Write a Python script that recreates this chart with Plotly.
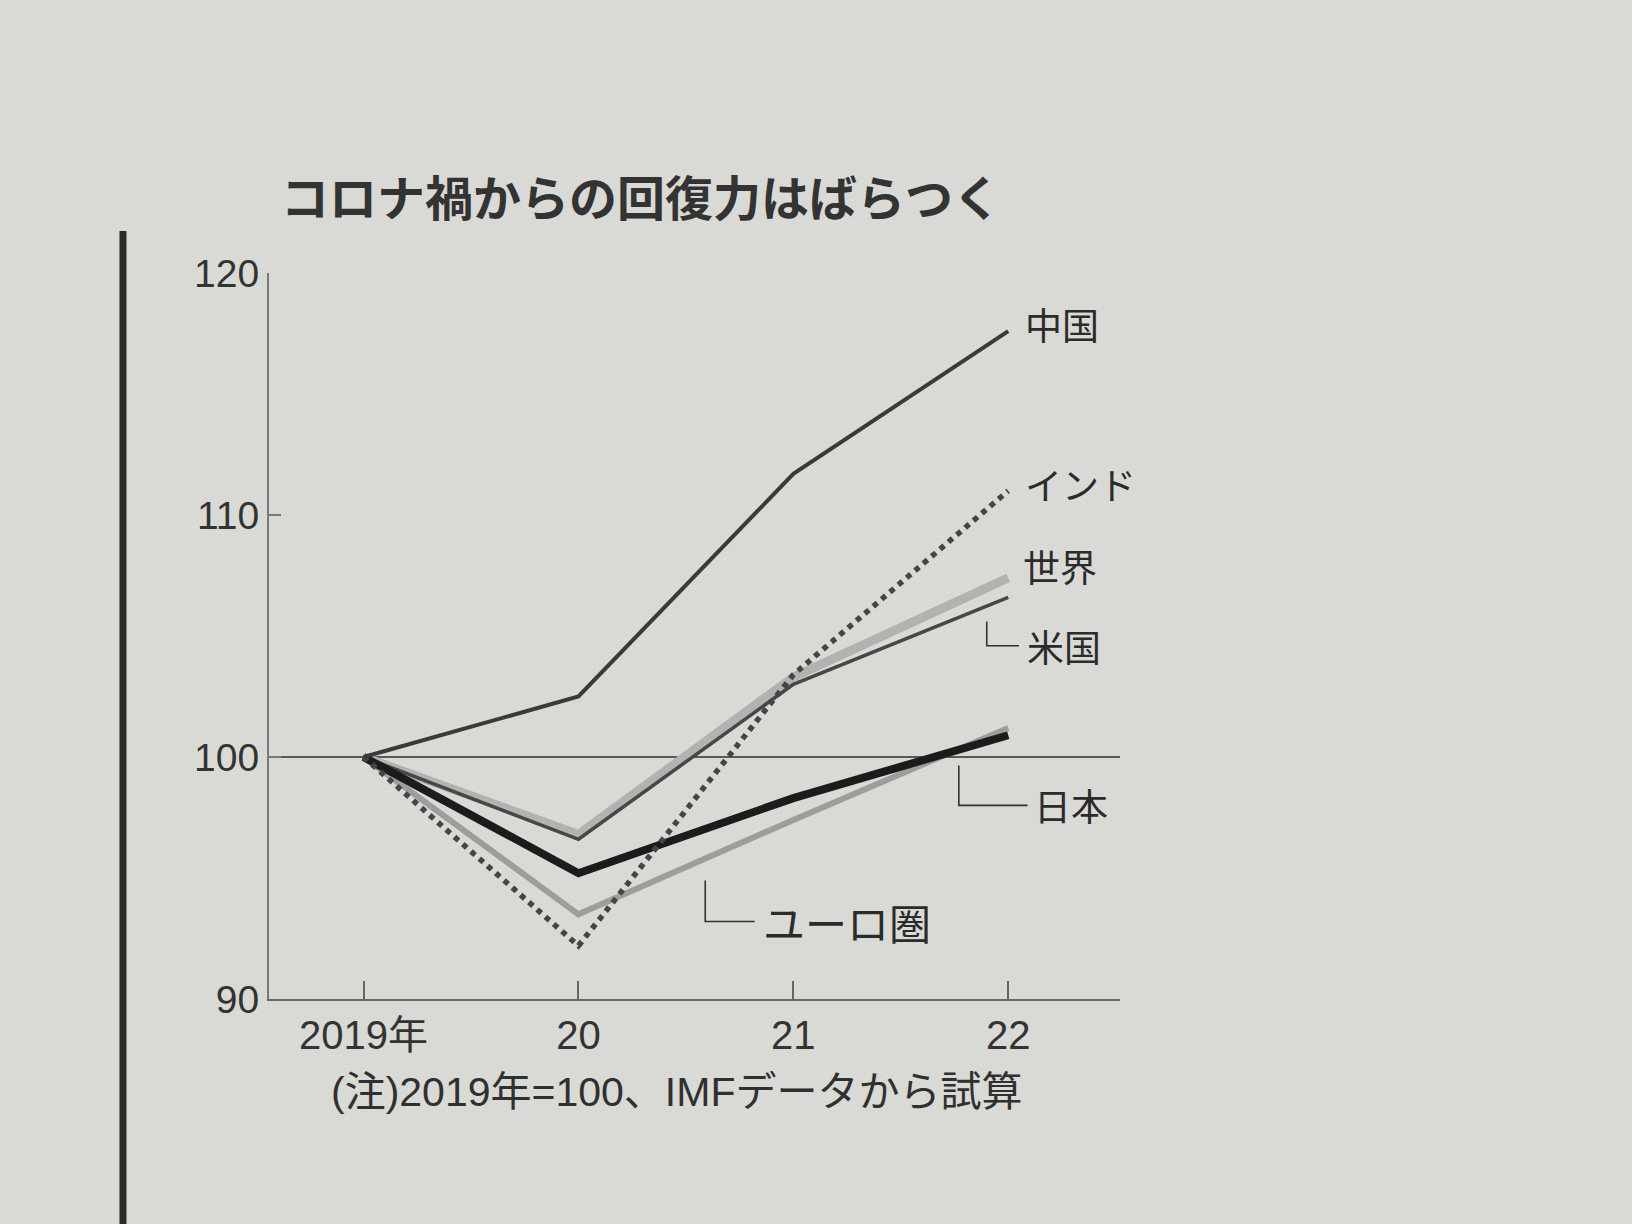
import plotly.graph_objects as go

# ---- data (2019 = 100) ----
years = [2019, 2020, 2021, 2022]
year_labels = ["2019年", "20", "21", "22"]
china = [100, 102.5, 111.7, 117.6]
india = [100, 92.2, 103.4, 111.0]
world = [100, 96.8, 103.3, 107.4]
usa = [100, 96.6, 103.0, 106.6]
japan = [100, 95.2, 98.3, 100.9]
euro = [100, 93.5, 97.4, 101.2]
y_ticks = [90, 100, 110, 120]

title_text = "コロナ禍からの回復力はばらつく"
note_text = "(注)2019年=100、IMFデータから試算"

FONT = "Liberation Sans Narrow, Liberation Sans, Noto Sans CJK JP, sans-serif"
JFONT = "Noto Sans CJK JP, sans-serif"
BG = "#d9d9d5"

fig = go.Figure()

series = [
    ("世界", world, dict(color="#b2b2b0", width=9)),
    ("ユーロ圏", euro, dict(color="#9d9d9b", width=6)),
    ("米国", usa, dict(color="#474747", width=3.5)),
    ("日本", japan, dict(color="#1c1c1c", width=8)),
    ("インド", india, dict(color="#454545", width=5.5, dash="dot")),
    ("中国", china, dict(color="#3a3a3a", width=4)),
]
for name, vals, line in series:
    fig.add_trace(go.Scatter(x=years, y=vals, mode="lines", name=name,
                             line=line, showlegend=False, hoverinfo="x+y+name"))

# 100 reference line
fig.add_shape(type="line", xref="paper", x0=0, x1=1, yref="y", y0=100, y1=100,
              line=dict(color="#2e2e2e", width=1.4), layer="below")

# leader lines (L-shaped)
leaders = [
    # (x_top, y_top, y_bottom, x_end)
    (2021.90, 105.6, 104.6, 2022.05),   # 米国
    (2021.77, 99.65, 98.0, 2022.09),    # 日本
    (2020.59, 94.9, 93.2, 2020.82),     # ユーロ圏
]
for xt, yt, yb, xe in leaders:
    fig.add_trace(go.Scatter(x=[xt, xt, xe], y=[yt, yb, yb], mode="lines",
                             line=dict(color="#333333", width=1.6),
                             showlegend=False, hoverinfo="skip"))

labels = [
    ("中国", 2022.07, 117.9, 37),
    ("インド", 2022.07, 111.3, 37),
    ("世界", 2022.06, 107.9, 37),
    ("米国", 2022.08, 104.6, 37),
    ("日本", 2022.11, 98.0, 37),
    ("ユーロ圏", 2020.85, 93.2, 42),
]
for txt, x, y, sz in labels:
    fig.add_annotation(x=x, y=y, xref="x", yref="y", text=txt, showarrow=False,
                       xanchor="left", yanchor="middle",
                       font=dict(family=JFONT, size=sz, color="#2b2b2b"))

# title and note
fig.add_annotation(xref="paper", yref="paper", x=0.012, y=1.107, text=title_text,
                   showarrow=False, xanchor="left", yanchor="middle",
                   font=dict(family=JFONT, size=48, color="#333333", weight="bold"))
fig.add_annotation(xref="paper", yref="paper", x=0.07, y=-0.128, text=note_text,
                   showarrow=False, xanchor="left", yanchor="middle",
                   font=dict(family=FONT, size=41, color="#303030"))

# newspaper column rule on the left
fig.add_shape(type="line", xref="paper", yref="paper", x0=-0.1716, x1=-0.1716,
              y0=1.058, y1=-0.32, line=dict(color="#2a2a2a", width=7))

fig.update_xaxes(range=[2018.56, 2022.52], tickvals=years, ticktext=year_labels,
                 showline=True, linecolor="#666666", linewidth=2,
                 ticks="inside", ticklen=18, tickwidth=2, tickcolor="#666666",
                 showgrid=False, zeroline=False,
                 tickfont=dict(family=FONT, size=40, color="#333333"))
fig.update_yaxes(range=[90, 120], tickvals=y_ticks,
                 showline=True, linecolor="#777777", linewidth=2,
                 ticks="inside", ticklen=12, tickwidth=2, tickcolor="#777777",
                 showgrid=False, zeroline=False,
                 tickfont=dict(family=FONT, size=39, color="#333333"))

fig.update_layout(width=1632, height=1224,
                  margin=dict(l=269, r=512, t=273, b=225),
                  paper_bgcolor=BG, plot_bgcolor=BG, showlegend=False)

fig.write_html("out.html",
               config={"displayModeBar": False},
               post_script="document.body.style.margin='0';"
                           "document.body.style.background='#d9d9d5';")
